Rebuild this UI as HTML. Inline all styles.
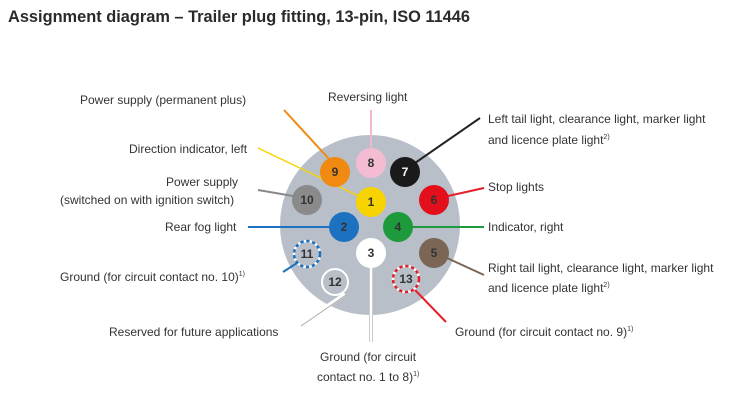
<!DOCTYPE html>
<html><head><meta charset="utf-8"><style>
html,body{margin:0;padding:0;background:#fff;}
svg{display:block;font-family:"Liberation Sans",sans-serif;}
.l{font-size:12px;fill:#333;}
.n{font-size:12px;font-weight:bold;fill:#333;text-anchor:middle;}
</style></head><body>
<svg width="741" height="403" viewBox="0 0 741 403">
<text x="8" y="22" font-size="16.5" font-weight="bold" fill="#2a2a2a" textLength="462" lengthAdjust="spacingAndGlyphs">Assignment diagram – Trailer plug fitting, 13-pin, ISO 11446</text>
<circle cx="370" cy="225" r="90" fill="#b8bfc8"/>
<!-- lines -->
<g stroke-width="2" fill="none">
<line x1="371" y1="150" x2="371" y2="110" stroke="#f2b8d0"/>
<line x1="330" y1="160" x2="284" y2="110" stroke="#f08a10"/>
<line x1="371" y1="202" x2="258" y2="148" stroke="#f6d400" stroke-width="1.5"/>
<line x1="293" y1="196" x2="258" y2="190" stroke="#888"/>
<line x1="330" y1="227" x2="248" y2="227" stroke="#1c72c0"/>
<line x1="297" y1="263" x2="283" y2="272" stroke="#1c72c0"/>
<line x1="345" y1="294" x2="300" y2="325" stroke="#fff" stroke-width="4"/>
<line x1="345" y1="294" x2="300" y2="325" stroke="#aaa" stroke-width="1" transform="translate(1,1)"/>
<line x1="371" y1="268" x2="371" y2="342" stroke="#ccc" stroke-width="4"/>
<line x1="371" y1="268" x2="371" y2="342" stroke="#fff" stroke-width="2"/>
<line x1="415" y1="290" x2="446" y2="322" stroke="#e3202a"/>
<line x1="447" y1="258" x2="484" y2="275" stroke="#7b6656"/>
<line x1="412" y1="227" x2="484" y2="227" stroke="#1d9a3c"/>
<line x1="448" y1="196" x2="484" y2="188" stroke="#e3202a"/>
<line x1="415" y1="163" x2="480" y2="118" stroke="#222"/>
</g>
<!-- pins -->
<circle cx="335" cy="172" r="15" fill="#f08a10"/><text class="n" x="335" y="176">9</text>
<circle cx="371" cy="163" r="15" fill="#f4bcd2"/><text class="n" x="371" y="167">8</text>
<circle cx="405" cy="172" r="15" fill="#1a1a1a"/><text class="n" x="405" y="176" fill="#fff" style="fill:#fff">7</text>
<circle cx="307" cy="200" r="15" fill="#8a8a8a"/><text class="n" x="307" y="204">10</text>
<circle cx="371" cy="202" r="15" fill="#f7d400"/><text class="n" x="371" y="206">1</text>
<circle cx="434" cy="200" r="15" fill="#e3101c"/><text class="n" x="434" y="204">6</text>
<circle cx="344" cy="227" r="15" fill="#1c72c0"/><text class="n" x="344" y="231">2</text>
<circle cx="398" cy="227" r="15" fill="#1d9a3c"/><text class="n" x="398" y="231">4</text>
<circle cx="307" cy="254" r="13" fill="#b8bfc8" stroke="#1c72c0" stroke-width="2.5" stroke-dasharray="3.5 2.5"/>
<circle cx="307" cy="254" r="13" fill="none" stroke="#fff" stroke-width="2.5" stroke-dasharray="2.5 3.5" stroke-dashoffset="-3.5"/>
<text class="n" x="307" y="258">11</text>
<circle cx="371" cy="253" r="15" fill="#fff"/><text class="n" x="371" y="257">3</text>
<circle cx="434" cy="253" r="15" fill="#7b6656"/><text class="n" x="434" y="257">5</text>
<circle cx="335" cy="282" r="13" fill="#b8bfc8" stroke="#fff" stroke-width="2"/><text class="n" x="335" y="286">12</text>
<circle cx="406" cy="279" r="13" fill="#b8bfc8" stroke="#e3202a" stroke-width="2.5" stroke-dasharray="3.5 2.5"/>
<circle cx="406" cy="279" r="13" fill="none" stroke="#fff" stroke-width="2.5" stroke-dasharray="2.5 3.5" stroke-dashoffset="-3.5"/>
<text class="n" x="406" y="283">13</text>
<!-- labels -->
<text class="l" x="80" y="104">Power supply (permanent plus)</text>
<text class="l" x="328" y="101">Reversing light</text>
<text class="l" x="488" y="123">Left tail light, clearance light, marker light</text>
<text class="l" x="488" y="144">and licence plate light<tspan font-size="7" dy="-5">2)</tspan></text>
<text class="l" x="129" y="153">Direction indicator, left</text>
<text class="l" x="166" y="186">Power supply</text>
<text class="l" x="60" y="204">(switched on with ignition switch)</text>
<text class="l" x="488" y="191">Stop lights</text>
<text class="l" x="165" y="231">Rear fog light</text>
<text class="l" x="488" y="231">Indicator, right</text>
<text class="l" x="60" y="281">Ground (for circuit contact no. 10)<tspan font-size="7" dy="-5">1)</tspan></text>
<text class="l" x="488" y="272">Right tail light, clearance light, marker light</text>
<text class="l" x="488" y="292">and licence plate light<tspan font-size="7" dy="-5">2)</tspan></text>
<text class="l" x="109" y="336">Reserved for future applications</text>
<text class="l" x="455" y="336">Ground (for circuit contact no. 9)<tspan font-size="7" dy="-5">1)</tspan></text>
<text class="l" x="320" y="361">Ground (for circuit</text>
<text class="l" x="317" y="381">contact no. 1 to 8)<tspan font-size="7" dy="-5">1)</tspan></text>
</svg>
</body></html>
